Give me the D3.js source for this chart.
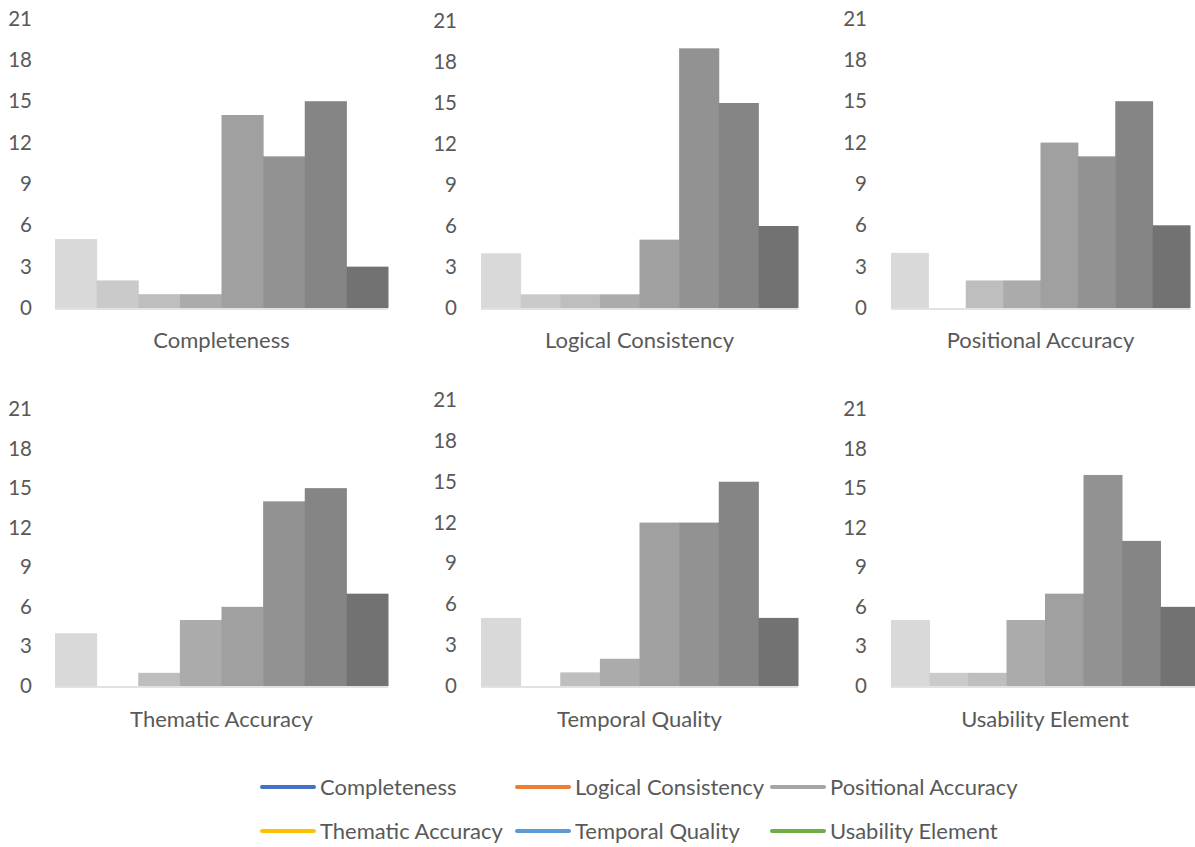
<!DOCTYPE html>
<html>
<head>
<meta charset="utf-8">
<script src="https://cdn.jsdelivr.net/npm/d3@7/dist/d3.min.js"></script>
<style>
  html, body { margin: 0; padding: 0; background: #ffffff; }
  svg { display: block; }
  text { font-family: "Lato", "Open Sans", sans-serif; fill: #595959; }
</style>
</head>
<body>
<svg id="chart" width="1195" height="847"></svg>
<script>
// Six quality elements, each with a count per response bin (8 bins)
const elements = ["Completeness", "Logical Consistency", "Positional Accuracy",
                  "Thematic Accuracy", "Temporal Quality", "Usability Element"];
const bins = ["b1", "b2", "b3", "b4", "b5", "b6", "b7", "b8"];

const completeness       = [5, 2, 1, 1, 14, 11, 15, 3];
const logicalConsistency = [4, 1, 1, 1, 5, 19, 15, 6];
const positionalAccuracy = [4, 0, 2, 2, 12, 11, 15, 6];
const thematicAccuracy   = [4, 0, 1, 5, 6, 14, 15, 7];
const temporalQuality    = [5, 0, 1, 2, 12, 12, 15, 5];
const usabilityElement   = [5, 1, 1, 5, 7, 16, 11, 6];

const yTicks = [0, 3, 6, 9, 12, 15, 18, 21];
const legendColors = ["#4472C4", "#ED7D31", "#A5A5A5", "#FFC000", "#5B9BD5", "#70AD47"];

const seriesValues = [completeness, logicalConsistency, positionalAccuracy,
                      thematicAccuracy, temporalQuality, usabilityElement];

// Grey ramp for the eight bins
const binColor = d3.scaleOrdinal()
  .domain(bins)
  .range(["#d9d9d9", "#cacaca", "#bebebe", "#ababab", "#a0a0a0", "#929292", "#858585", "#727272"]);

// Plot frames for the 3 x 2 grid: label edge, bar span, value-axis span
const frames = [
  { label: 32,  x0: 55,  x1: 388,  top: 18.5, base: 308, titleY: 340 },
  { label: 457, x0: 481, x1: 798,  top: 21,   base: 308, titleY: 340 },
  { label: 867, x0: 891, x1: 1190, top: 18.5, base: 308, titleY: 340 },
  { label: 32,  x0: 55,  x1: 388,  top: 409,  base: 686, titleY: 719 },
  { label: 457, x0: 481, x1: 798,  top: 400,  base: 686, titleY: 719 },
  { label: 867, x0: 891, x1: 1199, top: 409,  base: 686, titleY: 719 }
];

const svg = d3.select("#chart");
const TICK_FONT = 20.5;
const LABEL_FONT = 22;

elements.forEach((name, i) => {
  const f = frames[i];
  const values = seriesValues[i];
  const g = svg.append("g");

  const x = d3.scaleBand().domain(bins).range([f.x0, f.x1]).padding(0);
  const y = d3.scaleLinear().domain([0, 21]).range([f.base, f.top]);

  g.selectAll("rect.bar")
    .data(bins.map((b, k) => ({ bin: b, value: values[k] })))
    .join("rect")
    .attr("class", "bar")
    .attr("x", d => x(d.bin))
    .attr("width", x.bandwidth() + 0.5)
    .attr("y", d => y(d.value))
    .attr("height", d => y(0) - y(d.value))
    .attr("fill", d => binColor(d.bin));

  // category axis line
  g.append("line")
    .attr("x1", f.x0).attr("x2", f.x1)
    .attr("y1", y(0) + 1).attr("y2", y(0) + 1)
    .attr("stroke", "#d9d9d9").attr("stroke-width", 1.5);

  // value axis labels
  const ax = g.append("g")
    .attr("transform", `translate(${f.label},0)`)
    .call(d3.axisLeft(y).tickValues(yTicks).tickSize(0).tickPadding(0));
  ax.select(".domain").remove();
  ax.selectAll("text")
    .attr("font-size", TICK_FONT)
    .attr("font-family", null)
    .attr("fill", "#595959");

  g.append("text")
    .attr("x", (f.x0 + f.x1) / 2)
    .attr("y", f.titleY)
    .attr("dy", "0.35em")
    .attr("text-anchor", "middle")
    .attr("font-size", LABEL_FONT)
    .text(name);
});

// Legend: two rows of three line swatches
const legendX = [260, 515, 770];
const legendY = [787, 831];
const legend = svg.append("g");
elements.forEach((name, i) => {
  const lx = legendX[i % 3];
  const ly = legendY[Math.floor(i / 3)];
  legend.append("line")
    .attr("x1", lx + 2).attr("x2", lx + 54)
    .attr("y1", ly).attr("y2", ly)
    .attr("stroke", legendColors[i])
    .attr("stroke-width", 4)
    .attr("stroke-linecap", "round");
  legend.append("text")
    .attr("x", lx + 60)
    .attr("y", ly)
    .attr("dy", "0.35em")
    .attr("font-size", LABEL_FONT)
    .text(name);
});
</script>
</body>
</html>
